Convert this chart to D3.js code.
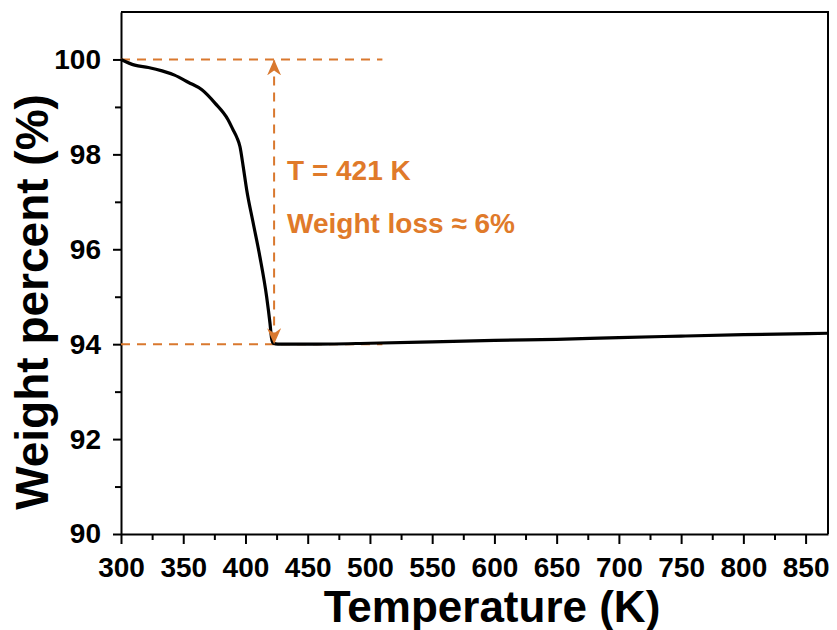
<!DOCTYPE html>
<html>
<head>
<meta charset="utf-8">
<script src="https://cdn.jsdelivr.net/npm/d3@7"></script>
<style>
  html, body { margin: 0; padding: 0; background: #fff; }
  svg { display: block; font-family: Arial, "Liberation Sans", sans-serif; }
</style>
</head>
<body>
<svg id="chart" width="837" height="630"></svg>
<script>
// ---- data ----
const temperature = [300, 311, 322, 333, 343, 354, 365, 375.5, 386, 390, 393, 395.6, 398.2, 401, 406, 411.6, 417, 419.7, 421, 422.3, 426, 450, 500, 550, 600, 650, 700, 750, 800, 868];
const weight      = [100, 99.88, 99.83, 99.76, 99.67, 99.52, 99.36, 99.08, 98.73, 98.52, 98.36, 98.16, 97.74, 97.25, 96.58, 95.84, 95.0, 94.44, 94.12, 94.02, 94.0, 94.0, 94.02, 94.05, 94.08, 94.1, 94.14, 94.17, 94.2, 94.23];
const xTicks = [300, 350, 400, 450, 500, 550, 600, 650, 700, 750, 800, 850];
const xMinorTicks = [325, 375, 425, 475, 525, 575, 625, 675, 725, 775, 825];
const yTicks = [90, 92, 94, 96, 98, 100];
const yMinorTicks = [91, 93, 95, 97, 99];
const refLevels = [100, 94];          // dashed reference lines (weight %)
const refLineEnd = 510;               // K
const arrowT = 423;                   // K, position of double arrow
const annotations = ["T = 421 K", "Weight loss \u2248 6%"];
const xTitle = "Temperature (K)";
const yTitle = "Weight percent (%)";

// ---- layout ----
const svg = d3.select("#chart");
const L = 121, R = 828, T = 12, B = 534;
const orange = "#D9782E";
const textOrange = "#E07A2A";

const x = d3.scaleLinear().domain([300, 868]).range([L, R]);
const y = d3.scaleLinear().domain([90, 101]).range([B, T]);

// frame (top & right)
svg.append("path")
  .attr("d", `M${L},${T}H${R}V${B}`)
  .attr("fill", "none").attr("stroke", "#000").attr("stroke-width", 2);

// minor ticks
const xMinor = svg.append("g").attr("transform", `translate(0,${B})`)
  .call(d3.axisBottom(x).tickValues(xMinorTicks).tickSize(6).tickFormat(""));
xMinor.select(".domain").remove();
const yMinor = svg.append("g").attr("transform", `translate(${L},0)`)
  .call(d3.axisLeft(y).tickValues(yMinorTicks).tickSize(6).tickFormat(""));
yMinor.select(".domain").remove();

// major axes
const xAxis = svg.append("g").attr("transform", `translate(0,${B})`)
  .call(d3.axisBottom(x).tickValues(xTicks).tickSize(10).tickSizeOuter(0).tickPadding(13).tickFormat(d3.format("d")));
const yAxis = svg.append("g").attr("transform", `translate(${L},0)`)
  .call(d3.axisLeft(y).tickValues(yTicks).tickSize(8).tickSizeOuter(0).tickPadding(12).tickFormat(d3.format("d")));

[xAxis, yAxis, xMinor, yMinor].forEach(g => {
  g.selectAll(".domain").attr("stroke", "#000").attr("stroke-width", 2);
  g.selectAll(".tick line").attr("stroke", "#000").attr("stroke-width", 2);
});
[xAxis, yAxis].forEach(g => {
  g.selectAll(".tick text")
    .attr("fill", "#000")
    .style("font-size", "28px")
    .style("font-weight", "bold")
    .style("font-family", "Arial, 'Liberation Sans', sans-serif");
});
xAxis.selectAll(".tick text").attr("dy", "0.71em");

// axis titles
svg.append("text")
  .attr("x", 492).attr("y", 622)
  .attr("text-anchor", "middle")
  .style("font-size", "44px").style("font-weight", "bold")
  .text(xTitle);
svg.append("text")
  .attr("transform", `translate(48,302) rotate(-90)`)
  .attr("text-anchor", "middle")
  .style("font-size", "46px").style("font-weight", "bold")
  .text(yTitle);

// dashed reference lines
svg.selectAll(".ref").data(refLevels).enter().append("line")
  .attr("x1", x(300)).attr("x2", x(refLineEnd))
  .attr("y1", d => y(d)).attr("y2", d => y(d))
  .attr("stroke", orange).attr("stroke-width", 2)
  .attr("stroke-dasharray", "9,7");

// data curve
svg.append("path")
  .datum(temperature.map((t, i) => [t, weight[i]]))
  .attr("d", d3.line().curve(d3.curveMonotoneX).x(d => x(d[0])).y(d => y(d[1])))
  .attr("fill", "none").attr("stroke", "#000").attr("stroke-width", 3.2)
  .attr("stroke-linejoin", "round");

// double arrow
const defs = svg.append("defs");
defs.append("marker")
  .attr("id", "arrowEnd").attr("viewBox", "0 0 16 14")
  .attr("refX", 15).attr("refY", 7)
  .attr("markerWidth", 16).attr("markerHeight", 14)
  .attr("markerUnits", "userSpaceOnUse")
  .attr("orient", "auto-start-reverse")
  .append("path").attr("d", "M0,0 L16,7 L0,14 L5,7 Z").attr("fill", orange);

svg.append("line")
  .attr("x1", x(arrowT)).attr("x2", x(arrowT))
  .attr("y1", y(refLevels[0]) + 1).attr("y2", y(refLevels[1]) - 1)
  .attr("stroke", orange).attr("stroke-width", 2)
  .attr("stroke-dasharray", "9,7")
  .attr("marker-start", "url(#arrowEnd)")
  .attr("marker-end", "url(#arrowEnd)");

// annotation text
svg.selectAll(".anno").data(annotations).enter().append("text")
  .attr("x", 287)
  .attr("y", (d, i) => 180 + i * 53)
  .attr("fill", textOrange)
  .style("font-size", "28px").style("font-weight", "bold")
  .text(d => d);
</script>
</body>
</html>
